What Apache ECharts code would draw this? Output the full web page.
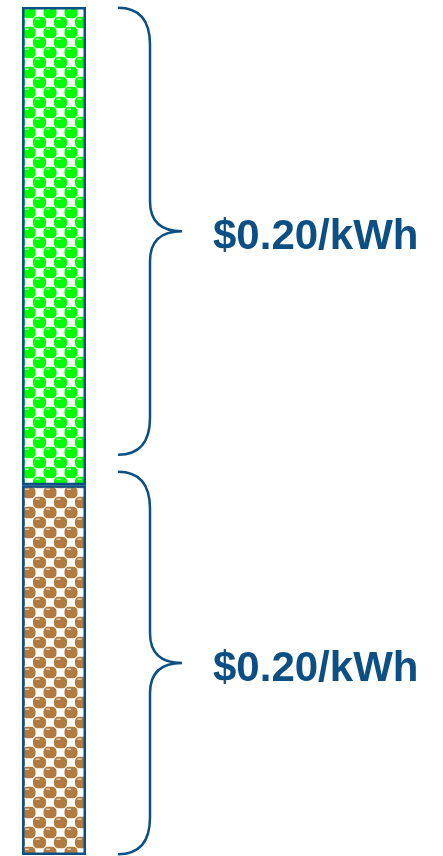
<!DOCTYPE html>
<html>
<head>
<meta charset="utf-8">
<style>
  html, body { margin: 0; padding: 0; background: #ffffff; }
  #chart { width: 443px; height: 856px; }
</style>
<script src="https://cdn.jsdelivr.net/npm/echarts@6/dist/echarts.min.js"></script>
</head>
<body>
<div id="chart"></div>
<script>
// One stacked column, split into two cost components (share of total, %)
const categories = ['Total'];
const lowerShare = [43.6];   // brown segment
const upperShare = [56.4];   // green segment

// Braces drawn beside the column: [from %, to %] and their labels
const braceRanges = [[0.1, 45.2], [47.2, 99.9]];
const braceLabels = ['$0.20/kWh', '$0.20/kWh'];

const NAVY = '#0b4f84';

// Checkerboard of shaded beads used as the bar fill
function beadTile(color) {
  const w = 21, h = 20;
  const c = document.createElement('canvas');
  c.width = w; c.height = h;
  const g = c.getContext('2d');
  g.fillStyle = '#ffffff';
  g.fillRect(0, 0, w, h);
  const centers = [[8, 12.5], [18.5, 2.5]];
  centers.forEach(([cx, cy]) => {
    for (let dx = -w; dx <= w; dx += w) {
      for (let dy = -h; dy <= h; dy += h) {
        const x = cx + dx, y = cy + dy;
        g.fillStyle = color;
        g.beginPath();
        if (g.roundRect) {
          g.roundRect(x - 6.5, y - 5.8, 13, 11.6, 4.5);
        } else {
          g.ellipse(x, y, 7, 6.2, 0, 0, Math.PI * 2);
        }
        g.fill();
        g.fillStyle = 'rgba(255,255,255,0.6)';
        g.fillRect(x - 4, y - 4, 4, 1.5);
      }
    }
  });
  return { image: c, repeat: 'repeat' };
}

const chart = echarts.init(document.getElementById('chart'), null, { renderer: 'canvas' });

const braceData = braceRanges.map((r, i) => [0, r[0], r[1], braceLabels[i]]);

chart.setOption({
  animation: false,
  backgroundColor: '#ffffff',
  grid: { left: 22, top: 7, width: 64, bottom: 1, containLabel: false },
  xAxis: {
    type: 'category',
    data: categories,
    show: false
  },
  yAxis: {
    type: 'value',
    min: 0,
    max: 100,
    show: false
  },
  series: [
    {
      type: 'bar',
      stack: 'cost',
      data: lowerShare,
      barWidth: 64,
      itemStyle: { color: beadTile('#b07a40'), borderColor: NAVY, borderWidth: 2.5 }
    },
    {
      type: 'bar',
      stack: 'cost',
      data: upperShare,
      barWidth: 64,
      itemStyle: { color: beadTile('#00ff00'), borderColor: NAVY, borderWidth: 2.5 }
    },
    {
      type: 'custom',
      clip: false,
      silent: true,
      data: braceData,
      encode: { x: 0, y: [1, 2] },
      renderItem: function (params, api) {
        const lo = api.coord([api.value(0), api.value(1)]);
        const hi = api.coord([api.value(0), api.value(2)]);
        const label = braceLabels[params.dataIndex];
        const xc = lo[0];
        const x0 = xc + 64;      // brace ends
        const xv = xc + 96;      // brace spine
        const xt = xc + 128;     // brace tip
        const yTop = hi[1];
        const yBot = lo[1];
        const yMid = (yTop + yBot) / 2;
        const rEnd = 37;
        const rTip = 30;
        const d = [
          'M', x0, yTop,
          'Q', xv, yTop, xv, yTop + rEnd,
          'L', xv, yMid - rTip,
          'Q', xv, yMid, xt, yMid,
          'Q', xv, yMid, xv, yMid + rTip,
          'L', xv, yBot - rEnd,
          'Q', xv, yBot, x0, yBot
        ].join(' ');
        return {
          type: 'group',
          children: [
            {
              type: 'path',
              shape: { pathData: d },
              style: { fill: null, stroke: NAVY, lineWidth: 2.5 }
            },
            {
              type: 'text',
              x: xt + 31,
              y: yMid + 6,
              style: {
                text: label,
                fill: NAVY,
                font: 'bold 42px "Liberation Sans", Arial, sans-serif',
                textAlign: 'left',
                textVerticalAlign: 'middle'
              }
            }
          ]
        };
      }
    }
  ]
});
</script>
</body>
</html>
